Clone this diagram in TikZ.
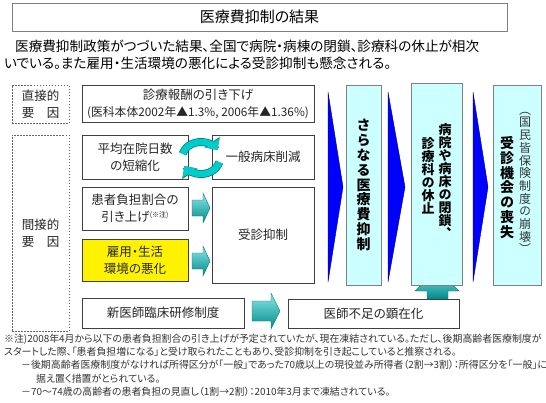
\documentclass[tikz,border=0pt]{standalone}
\usepackage{fontspec}
\newfontfamily\jp[RawFeature=+palt]{Noto Sans CJK JP}
\newfontfamily\jpv[RawFeature=+vert]{Noto Sans CJK JP}
\usetikzlibrary{arrows.meta}
\definecolor{boxline}{RGB}{64,64,64}
\definecolor{colfill}{RGB}{204,255,255}
\definecolor{arrcyan}{RGB}{0,204,204}
\definecolor{arrteal}{RGB}{0,120,120}
\definecolor{chev}{RGB}{0,0,255}
\tikzset{
	box/.style={draw=boxline, fill=white, align=center, inner sep=1pt, text=black!85, font=\jp\fontsize{12.5}{17}\selectfont},
	dashbox/.style={box, draw=black!60, dash pattern=on 1.5pt off 1.5pt},
	column/.style={draw=gray, fill=colfill, inner sep=0pt},
	vtext/.style={align=center, inner sep=0pt, text=black, font=\jpv\bfseries\fontsize{14}{14.8}\selectfont},
	chevron/.style={fill=chev, draw=chev!45!black, line join=miter},
	cyanarrow/.style={top color=arrcyan!45!white, bottom color=arrteal!80!arrcyan, draw=arrteal},
	cyclearrow/.style={line width=6.5pt, arrcyan, -{Triangle[length=8.5pt, width=16pt]},
		preaction={draw=arrteal, line width=7.9pt, -{Triangle[length=9.5pt, width=18pt]}}},
}
\begin{document}
\begin{tikzpicture}[x=1pt,y=-1pt]
	\useasboundingbox (0,0) rectangle (546,402);
	% heading and lead text
	\node[box, draw=gray, text=black, minimum width=495pt, minimum height=28pt, font=\jp\fontsize{15}{18}\selectfont] (title) at (259.5,17) {医療費抑制の結果};
	\node[anchor=west, align=left, inner sep=0pt, font=\jp\fontsize{13.6}{17}\selectfont] (lead) at (4,55) {\hspace*{11pt}医療費抑制政策がつづいた結果、全国で病院・病棟の閉鎖、診療科の休止が相次\\いでいる。また雇用・生活環境の悪化による受診抑制も懸念される。};
	% factors
	\node[dashbox, minimum width=57pt, minimum height=38pt] (direct) at (40.5,104) {直接的\\要　因};
	\node[dashbox, minimum width=57pt, minimum height=196pt] (indirect) at (40.5,233) {間接的\\要　因};
	\node[box, minimum width=232pt, minimum height=37pt] (fee) at (198,103.5) {診療報酬の引き下げ\\{\fontsize{11.8}{14}\selectfont (医科本体2002年▲1.3\%, 2006年▲1.36\%)}};
	\node[box, minimum width=106pt, minimum height=44pt] (stay) at (135,157) {平均在院日数\\の短縮化};
	\node[box, minimum width=102pt, minimum height=44pt] (beds) at (263,157) {一般病床削減};
	\node[box, minimum width=106pt, minimum height=43pt] (burden) at (135,208.5) {患者負担割合の\\引き上げ\raisebox{4pt}{\fontsize{7}{7}\selectfont(※注)}};
	\node[box, fill=yellow, minimum width=106pt, minimum height=42pt] (employ) at (135,260) {雇用・生活\\環境の悪化};
	\node[box, minimum width=102pt, minimum height=96pt] (suppress) at (263,235) {受診抑制};
	\node[box, minimum width=162pt, minimum height=30pt] (training) at (163,313) {新医師臨床研修制度};
	% up arrow sits under the column
	\draw[cyanarrow] (427,299) -- (427,291) -- (415,291) -- (437,270) -- (459,291) -- (448,291) -- (448,299) -- cycle;
	\node[box, minimum width=171pt, minimum height=29pt] (shortage) at (373.5,313.5) {医師不足の顕在化};
	% results
	\node[column, minimum width=35pt, minimum height=200pt] (further) at (363.5,185) {};
	\node[vtext] (furthertext) at (further) {さ\\ら\\な\\る\\医\\療\\費\\抑\\制};
	\node[column, minimum width=51pt, minimum height=202pt] (closure) at (436.5,184) {};
	\node[vtext, anchor=north, font=\jpv\bfseries\fontsize{13}{13}\selectfont] (closureA) at (445,123) {病\\院\\や\\病\\床\\の\\閉\\鎖\\、};
	\node[vtext, anchor=north, font=\jpv\bfseries\fontsize{13}{13}\selectfont] (closureB) at (428,137) {診\\療\\科\\の\\休\\止};
	\node[column, minimum width=48pt, minimum height=200pt] (loss) at (517,185) {};
	\node[vtext] (losstext) at (507,187.5) {受\\診\\機\\会\\の\\喪\\失};
	\node[vtext, font=\jpv\fontsize{12}{12.7}\selectfont, text=black!80] (lossnote) at (525,183) {（\\国\\民\\皆\\保\\険\\制\\度\\の\\崩\\壊\\）};
	% chevrons
	\foreach \x/\tip in {328/343, 388/405, 473/488}
		\filldraw[chevron] (\x,92) -- (\tip,187) -- (\x,282) -- cycle;
	% small arrows
	\draw[cyanarrow] (192,200) -- ++(11,0) -- ++(0,-7) -- ++(7,15) -- ++(-7,15) -- ++(0,-7) -- ++(-11,0) -- cycle;
	\draw[cyanarrow] (192,253) -- ++(11,0) -- ++(0,-7) -- ++(7,15) -- ++(-7,15) -- ++(0,-7) -- ++(-11,0) -- cycle;
	\draw[cyanarrow] (252,301) -- ++(19,0) -- ++(0,-8) -- ++(9,18) -- ++(-9,18) -- ++(0,-8) -- ++(-19,0) -- cycle;
	% cycle between stay and beds
	\draw[cyclearrow] (201,158) ++(195:19 and 16) arc[start angle=195, end angle=330, x radius=19, y radius=16];
	\draw[cyclearrow] (201,158) ++(15:19 and 16) arc[start angle=15, end angle=150, x radius=19, y radius=16];
	% note
	\node[anchor=north west, align=left, inner sep=0pt, text=black!80, font=\jp\fontsize{9.9}{13.2}\selectfont] (note) at (4,334) {※注)2008年4月から以下の患者負担割合の引き上げが予定されていたが、現在凍結されている。ただし、後期高齢者医療制度が\\スタートした際、「患者負担増になる」と受け取られたこともあり、受診抑制を引き起こしていると推察される。\\\hspace*{17pt}－後期高齢者医療制度がなければ所得区分が「一般」であった70歳以上の現役並み所得者（2割→3割）：所得区分を「一般」に\\\hspace*{32pt}据え置く措置がとられている。\\\hspace*{17pt}－70～74歳の高齢者の患者負担の見直し（1割→2割）：2010年3月まで凍結されている。};
\end{tikzpicture}
\end{document}
